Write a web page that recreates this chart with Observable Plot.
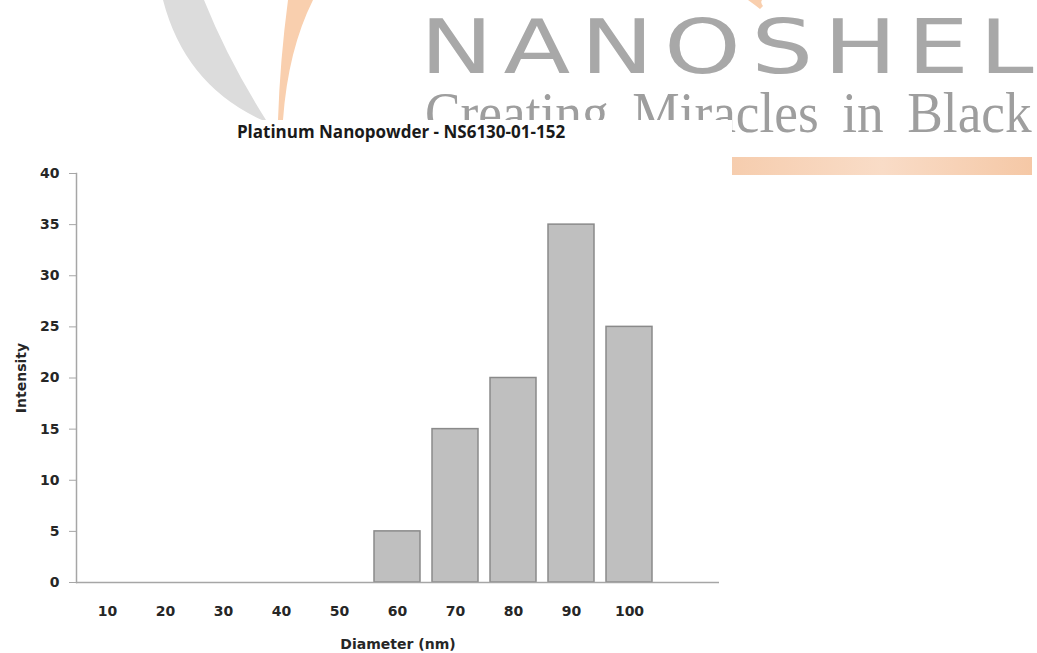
<!DOCTYPE html>
<html><head><meta charset="utf-8">
<script src="https://cdn.jsdelivr.net/npm/d3@7"></script>
<script src="https://cdn.jsdelivr.net/npm/@observablehq/plot@0.6"></script>
<style>
html,body{margin:0;padding:0;background:#fff;}
#page{position:relative;width:1037px;height:653px;overflow:hidden;background:#fff;}
#wm{position:absolute;left:0;top:0;}
#title{position:absolute;left:0;width:802px;top:120px;text-align:center;font:bold 17px "Open Sans";color:#1a1a1a;white-space:nowrap;}
#chart{position:absolute;left:0;top:160px;}
</style></head><body>
<div id="page">
<svg id="wm" width="1037" height="653">
  <defs>
    <linearGradient id="bar" x1="0" x2="1" y1="0" y2="0">
      <stop offset="0" stop-color="#f6cdae"/>
      <stop offset="0.5" stop-color="#f9dcc7"/>
      <stop offset="1" stop-color="#f5c8a6"/>
    </linearGradient>
  </defs>
  <path d="M163,0 Q185,85 262,120 L266,120 Q228,60 204,0 Z" fill="#dcdcdc"/>
  <path d="M288,0 Q280,60 278,120 L283,120 Q288,50 313,0 Z" fill="#f9cfae"/>
  <path d="M748,0 Q755,5 760,9 L763,6 Q760,2 762,0 Z" fill="#f9cfae"/>
  <text transform="translate(420,73) scale(1.32,1)" x="0" y="0" font-family="DejaVu Sans" font-size="74" fill="#a8a8a8" textLength="465" lengthAdjust="spacing">NANOSHEL</text>
  <text transform="translate(425,132) scale(0.92,1)" x="0" y="0" font-family="Liberation Serif" font-size="58" fill="#9e9e9e" word-spacing="11">Creating Miracles in Black</text>
  <rect x="0" y="120" width="732" height="533" fill="#fff"/>
  <rect x="732" y="157" width="300" height="18" fill="url(#bar)"/>
</svg>
<div id="title">Platinum Nanopowder - NS6130-01-152</div>
<div id="chart"></div>
</div>
<script>
// Chart data
const diameters = ["10","20","30","40","50","60","70","80","90","100"];
const intensities = [0, 0, 0, 0, 0, 5, 15, 20, 35, 25];
const yTicks = [0, 5, 10, 15, 20, 25, 30, 35, 40];
const xDomain = [...diameters, ""]; // trailing empty category slot, as in the original chart

const data = diameters.map((d, i) => ({diameter: d, intensity: intensities[i]}));

const chart = Plot.plot({
  width: 735,
  height: 493,
  marginLeft: 76,
  marginRight: 16,
  marginTop: 13,
  marginBottom: 71,
  style: {fontFamily: "DejaVu Sans", fontSize: "14px", fontWeight: "bold", color: "#262626", background: "transparent", overflow: "visible"},
  x: {type: "band", domain: xDomain, paddingInner: 0.2, paddingOuter: 0.1},
  y: {domain: [0, 40]},
  marks: [
    Plot.barY(data, {x: "diameter", y: "intensity", fill: "#bfbfbf", stroke: "#8a8a8a", strokeWidth: 1.5}),
    Plot.ruleY([0], {stroke: "#a6a6a6", strokeWidth: 1.5}),
    Plot.frame({anchor: "left", stroke: "#a6a6a6", strokeWidth: 1.5}),
    Plot.axisY({ticks: yTicks, label: null, tickSize: 7, tickPadding: 10, stroke: "#a6a6a6", fill: "#262626", fontSize: 14}),
    Plot.axisY({ticks: [], label: "Intensity", labelAnchor: "center", labelArrow: "none", labelOffset: 60, fontSize: 14, fill: "#262626"}),
    Plot.axisX({label: null, tickSize: 0, tickPadding: 24, fill: "#262626", fontSize: 14}),
    Plot.axisX({ticks: [], label: "Diameter (nm)", labelAnchor: "center", labelArrow: "none", labelOffset: 66, fontSize: 14, fill: "#262626"})
  ]
});
document.getElementById("chart").appendChild(chart);
</script>
</body></html>
